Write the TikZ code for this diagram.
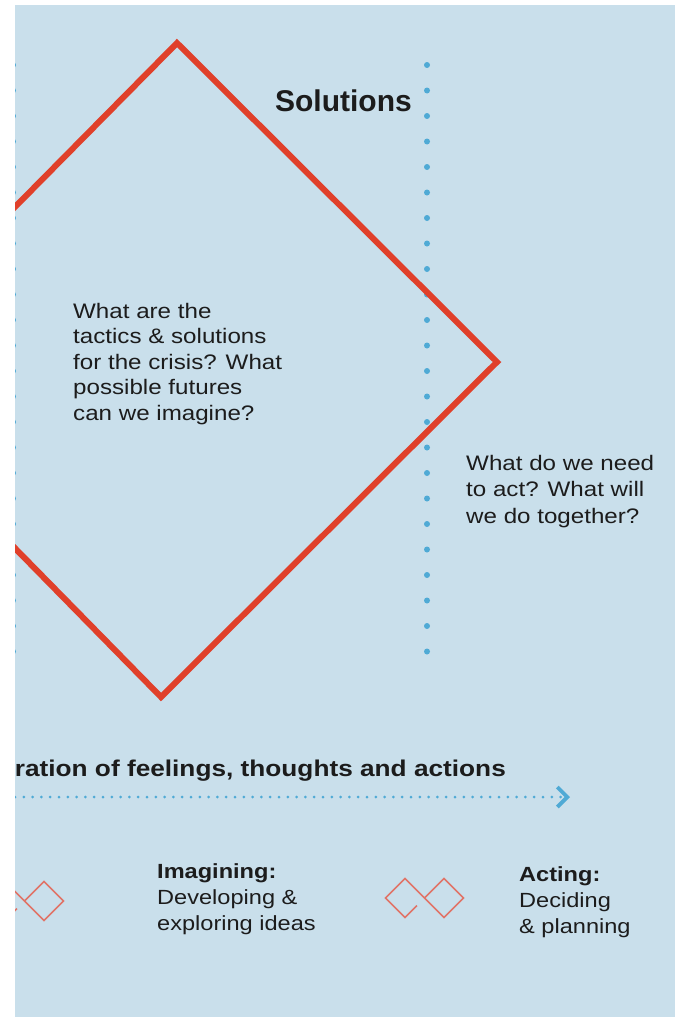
\documentclass[tikz,border=0pt]{standalone}
\usepackage{fontspec}
\setmainfont{Liberation Sans}[FakeStretch=1.15]
\newfontfamily\headfont{Liberation Sans}
\usetikzlibrary{arrows.meta}
\definecolor{bgblue}{HTML}{C9DFEB}
\definecolor{diamondred}{HTML}{E0402A}
\definecolor{dotblue}{HTML}{4FAAD5}
\definecolor{iconred}{HTML}{E07468}
\definecolor{ink}{HTML}{1C1C1C}
\tikzset{
  bodytext/.style={inner sep=0pt,align=left,anchor=base west,text=ink,
    font=\fontsize{21}{25.5}\selectfont},
  smalltext/.style={bodytext,font=\fontsize{20.5}{25.7}\selectfont},
  dotline/.style={dotblue,line width=6pt,line cap=round,dash pattern=on 0pt off 25.5pt},
  arrowline/.style={dotblue,line width=3pt,line cap=round,dash pattern=on 0pt off 8.8pt,
    -{Straight Barb[length=10pt,width=20pt,line width=3.8pt]}},
  redline/.style={diamondred,line width=6pt,line join=miter},
  iconline/.style={iconred,line width=1.6pt,line join=miter}
}
\begin{document}
\begin{tikzpicture}[x=1pt,y=-1pt]
\useasboundingbox (0,0) rectangle (675,1017);
\fill[bgblue] (15,5) rectangle (675,1017);
\begin{scope}
\clip (15,5) rectangle (675,1017);
% dotted guides
\foreach \x in {13,427}
\draw[dotline] (\x,65) -- (\x,652);
% big diamond
\coordinate (dtop) at (177,43);
\coordinate (dright) at (497,362);
\coordinate (dbottom) at (161,697);
\coordinate (dleft) at (-153,377);
\draw[redline] (dtop) -- (dright) -- (dbottom) -- (dleft) -- cycle;
\node[anchor=base east,inner sep=0pt,text=ink,font=\headfont\bfseries\fontsize{30}{36}\selectfont]
  (solutions) at (412,111) {Solutions};
% base of a multi-line node = last line
\node[bodytext] (tactics) at (73,420)
  {What are the\\tactics \& solutions\\for the crisis? What\\possible futures\\can we imagine?};
\node[bodytext,font=\fontsize{21}{26.5}\selectfont] (needs) at (466,523)
  {What do we need\\to act? What will\\we do together?};
% timeline
\node[anchor=base east,inner sep=0pt,text=ink,font=\bfseries\fontsize{22.8}{27}\selectfont]
  (title) at (506,776) {ration of feelings, thoughts and actions};
\coordinate (astart) at (15,797);
\coordinate (aend) at (570,797);
\draw[arrowline] (astart) -- (aend);
% small linked diamonds
\foreach \cx/\cy in {44/901,444/898}
{
\begin{scope}[shift={(\cx,\cy)}]
\draw[iconline] (-27,7.5) -- (-39,19.5) -- (-58.5,0) -- (-39,-19.5) -- (0,19.5)
  -- (19.5,0) -- (0,-19.5) -- (-19.5,0);
\end{scope}
}
\node[smalltext] (imagining) at (157,930)
  {\textbf{Imagining:}\\Developing \&\\exploring ideas};
\node[smalltext] (acting) at (519,933)
  {\textbf{Acting:}\\Deciding\\\& planning};
\end{scope}
\end{tikzpicture}
\end{document}
